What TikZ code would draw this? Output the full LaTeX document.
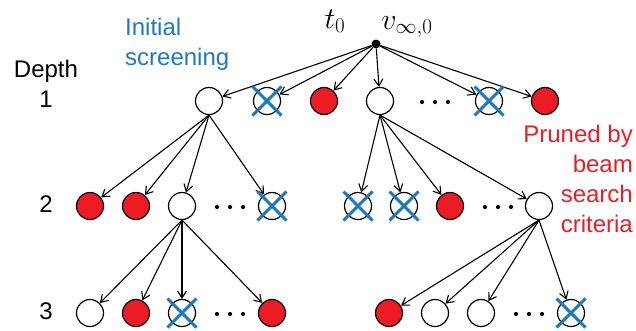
\documentclass[tikz,border=0pt]{standalone}
\RequirePackage{fix-cm}
\usepackage[no-math]{fontspec}
\setmainfont{Liberation Sans}
\usepackage{amsmath,amssymb}
\usepackage{tikz}
\usetikzlibrary{arrows.meta}
\pgfdeclarelayer{bg}
\pgfsetlayers{bg,main}
\definecolor{keepred}{RGB}{237,28,36}
\definecolor{cutblue}{RGB}{30,122,192}
\tikzset{
    state/.style={circle, draw, line width=1.2pt, inner sep=0mm, minimum size=27pt, fill=white},
    kept/.style={state, fill=keepred},
    cut/.style={state},
    root/.style={circle, fill=black, inner sep=0mm, minimum size=9pt},
    more/.style={inner sep=0mm, minimum width=34pt, minimum height=8pt, fill=white,
        path picture={\foreach \dx in {-13,0,13} \fill [black] ([xshift=\dx pt]path picture bounding box.center) circle (2.1pt);}},
    link/.style={-{Straight Barb[length=7pt,width=9pt]}, line width=1.1pt},
    cross/.style={draw=cutblue, line width=3pt},
    txt/.style={inner sep=0mm, font=\fontsize{24}{30}\selectfont},
    mathtxt/.style={inner sep=0mm, anchor=base, font=\fontsize{30}{30}\selectfont}
}

\begin{document}
\begin{tikzpicture}[x=1pt, y=-1pt]
        \useasboundingbox (0,0) rectangle (636,330);
        % depth 0
        \node (r) [root] at (376, 44) {};
        \node (t0) [mathtxt] at (335, 28) {$t_0$};
        \node (vinf) [mathtxt] at (407, 29) {$v_{\infty,0}$};
        % depth 1
        \node (a1) [state] at (209, 101) {};
        \node (a2) [cut] at (267, 101) {};
        \node (a3) [kept] at (324, 101) {};
        \node (a4) [state] at (380, 101) {};
        \node (a5) [more] at (435, 102) {};
        \node (a6) [cut] at (489, 101) {};
        \node (a7) [kept] at (545, 101) {};
        % depth 2
        \node (b1) [kept] at (90, 206) {};
        \node (b2) [kept] at (136, 206) {};
        \node (b3) [state] at (182, 206) {};
        \node (b4) [more] at (230, 207) {};
        \node (b5) [cut] at (272, 206) {};
        \node (b6) [cut] at (358, 206) {};
        \node (b7) [cut] at (404, 206) {};
        \node (b8) [kept] at (450, 206) {};
        \node (b9) [more] at (498, 207) {};
        \node (b10) [state] at (539, 206) {};
        % depth 3
        \node (c1) [state] at (90, 313) {};
        \node (c2) [kept] at (136, 313) {};
        \node (c3) [cut] at (182, 313) {};
        \node (c4) [more] at (230, 314) {};
        \node (c5) [kept] at (272, 313) {};
        \node (c6) [kept] at (389, 313) {};
        \node (c7) [state] at (435, 313) {};
        \node (c8) [state] at (481, 313) {};
        \node (c9) [more] at (529, 314) {};
        \node (c10) [cut] at (571, 313) {};
        % texts
        \node (depth1) [txt, align=center] at (46, 84) {Depth\\1};
        \node (depth2) [txt] at (46, 204) {2};
        \node (depth3) [txt] at (46, 311) {3};
        \node (screen) [txt, text=cutblue, align=left, anchor=west] at (125, 44) {Initial\\screening};
        \node (prune) [txt, text=keepred, align=right, anchor=east] at (633, 179) {Pruned by\\beam\\search\\criteria};
        \foreach \n in {a2,a6,b5,b6,b7,c3,c10}
                \draw [cross] (\n) +(-14.5,-14.5) -- +(14.5,14.5) +(-14.5,14.5) -- +(14.5,-14.5);
        \begin{pgfonlayer}{bg}
                \draw (r) edge [link] (a1);
                \draw (r) edge [link] (a2);
                \draw (r) edge [link] (a3);
                \draw (r) edge [link] (a4);
                \draw (r) edge [link] (a6);
                \draw (r) edge [link] (a7);
                \draw (a1.south) edge [link] (b1);
                \draw (a1.south) edge [link] (b2);
                \draw (a1.south) edge [link] (b3);
                \draw (a1.south) edge [link] (b5);
                \draw (a4.south) edge [link] (b6);
                \draw (a4.south) edge [link] (b7);
                \draw (a4.south) edge [link] (b8);
                \draw (a4.south) edge [link] (b10);
                \draw (b3.south) edge [link] (c1);
                \draw (b3.south) edge [link] (c2);
                \draw (b3.south) edge [link] (c3);
                \draw (b3.south) edge [link] (c5);
                \draw (b10.south) edge [link] (c6);
                \draw (b10.south) edge [link] (c7);
                \draw (b10.south) edge [link] (c8);
                \draw (b10.south) edge [link] (c10);
        \end{pgfonlayer}
\end{tikzpicture}
\end{document}
